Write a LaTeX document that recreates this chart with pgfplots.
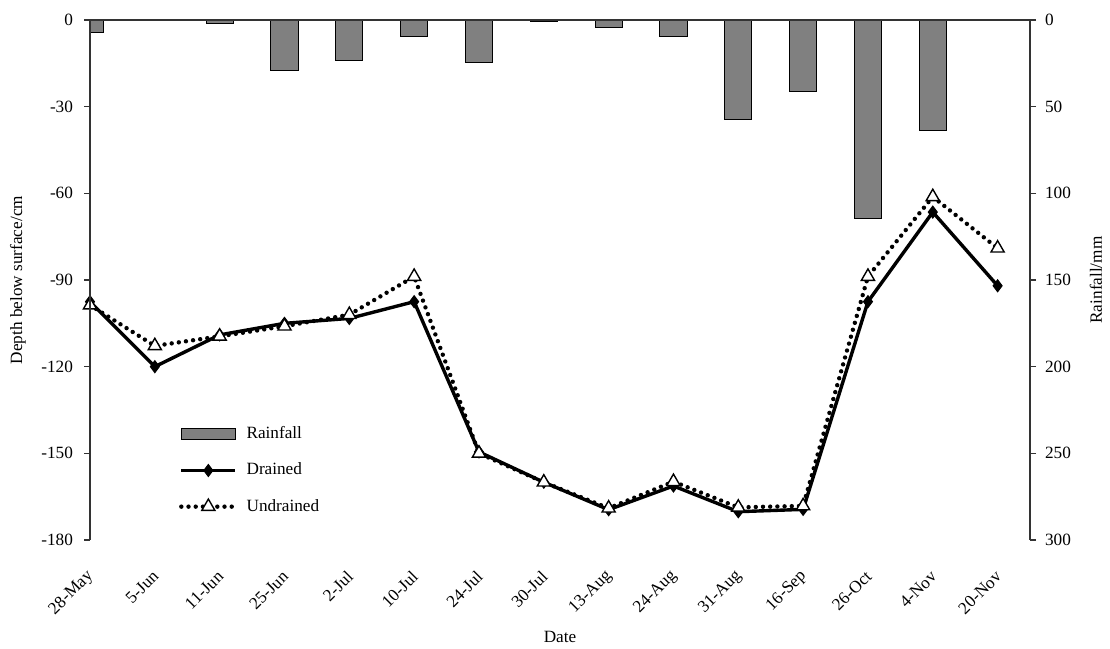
\documentclass[border=0pt]{standalone}
\usepackage{fontspec}
\setmainfont{Liberation Serif}
\usepackage{pgfplots}
\pgfplotsset{compat=1.18}
\usepackage{pgfplotstable}

\definecolor{barfill}{HTML}{808080}
\definecolor{axisgray}{HTML}{333333}

% Rainfall per sampling date (mm); dates with no rain are left out
\pgfplotstableread{
x  rain
0  7.4
2  1.9
3  29.1
4  23.3
5  9.7
6  24.8
7  0.9
8  4.4
9  9.7
10 57.5
11 41.5
12 114.3
13 63.7
}\raintable

% Water-table depth below surface (cm)
\pgfplotstableread{
x  drained  undrained
0  -97.5    -98.7
1  -120.0   -112.8
2  -109.0   -109.5
3  -105.0   -106.0
4  -103.3   -102.0
5  -97.5    -88.8
6  -149.5   -150.0
7  -160.0   -160.0
8  -169.5   -169.0
9  -161.3   -159.8
10 -170.2   -168.7
11 -169.4   -168.2
12 -97.5    -88.8
13 -66.5    -61.2
14 -92.0    -79.0
}\depthtable

\pgfplotsset{
  common/.style={
    scale only axis,
    width=470pt, height=260pt,
    xmin=0, xmax=14.5,
    axis line style={draw=none},
    tick align=outside,
    major tick length=3pt,
    ytick style={axisgray, line width=0.6pt},
    xtick style={draw=none},
  },
  lineimg/.style={
    legend image code/.code={
      \draw[mark repeat=2, mark phase=2, ##1]
        plot coordinates {(0cm,0cm) (0.475cm,0cm) (0.95cm,0cm)};
    }
  },
}

\begin{document}
\begin{tikzpicture}[font=\fontsize{8.6}{10.3}\selectfont]

% Rainfall bars on the reversed right-hand scale
\begin{axis}[
  common,
  ymin=0, ymax=300,
  y dir=reverse,
  ytick={0,50,100,150,200,250,300},
  yticklabels={0,50,100,150,200,250,300},
  ytick pos=right,
  yticklabel pos=right,
  yticklabel style={xshift=1pt},
  xtick=\empty,
  ylabel={Rainfall/mm},
  ylabel style={at={(axis description cs:1.0700,0.5)}, rotate=0, anchor=center},
]
\addplot[ybar, bar width=0.42, bar shift=0pt, fill=barfill, draw=black, line width=0.5pt]
  table[x=x, y=rain] {\raintable};
\end{axis}

% Water-table depth on the left-hand scale
\begin{axis}[
  common,
  name=depth,
  ymin=-180, ymax=0,
  ytick={-180,-150,-120,-90,-60,-30,0},
  yticklabels={-180,-150,-120,-90,-60,-30,0},
  yticklabel style={xshift=-2pt},
  ytick pos=left,
  xtick={0,...,14},
  xticklabels={28-May,5-Jun,11-Jun,25-Jun,2-Jul,10-Jul,24-Jul,30-Jul,13-Aug,24-Aug,31-Aug,16-Sep,26-Oct,4-Nov,20-Nov},
  xticklabel style={xshift=0.5pt, yshift=-13.8pt, rotate=45, anchor=east, inner sep=0pt},
  xlabel={Date},
  xlabel style={at={(axis description cs:0.5,-0.1865)}, anchor=center},
  ylabel={Depth below surface/cm},
  ylabel style={at={(axis description cs:-0.0766,0.5)}, rotate=0, anchor=center},
  legend style={at={(axis description cs:0.088,0.234)}, anchor=north west,
    draw=none, fill=none, row sep=6.6pt, font=\fontsize{8.6}{10.3}\selectfont,
    nodes={inner xsep=4.5pt}},
  legend cell align=left,
]
\addlegendimage{legend image code/.code={
  \draw[fill=barfill, draw=black, line width=0.5pt] (0cm,-2.75pt) rectangle (0.95cm,2.75pt);}}
\addlegendentry{Rainfall}
\addplot[lineimg, black, line width=1.7pt, mark=diamond*, mark size=3pt,
  mark options={solid, fill=black, line width=0.5pt}]
  table[x=x, y=drained] {\depthtable};
\addlegendentry{Drained}
\addplot[lineimg, black, line width=2.2pt, dash pattern=on 0pt off 3.6pt, line cap=round,
  mark=triangle*, mark size=3.8pt,
  mark options={solid, fill=white, draw=black, line width=0.7pt, line cap=butt}]
  table[x=x, y=undrained] {\depthtable};
\addlegendentry{Undrained}
\end{axis}

% frame: left, top and right axis lines
\draw[axisgray, line width=0.7pt]
  (depth.south west) -- (depth.north west) -- (depth.north east) -- (depth.south east);

\pgfresetboundingbox
\path[use as bounding box]
  ([shift={(-45pt,-54pt)}]depth.south west) rectangle ([shift={(40pt,10pt)}]depth.north east);
\end{tikzpicture}
\end{document}
